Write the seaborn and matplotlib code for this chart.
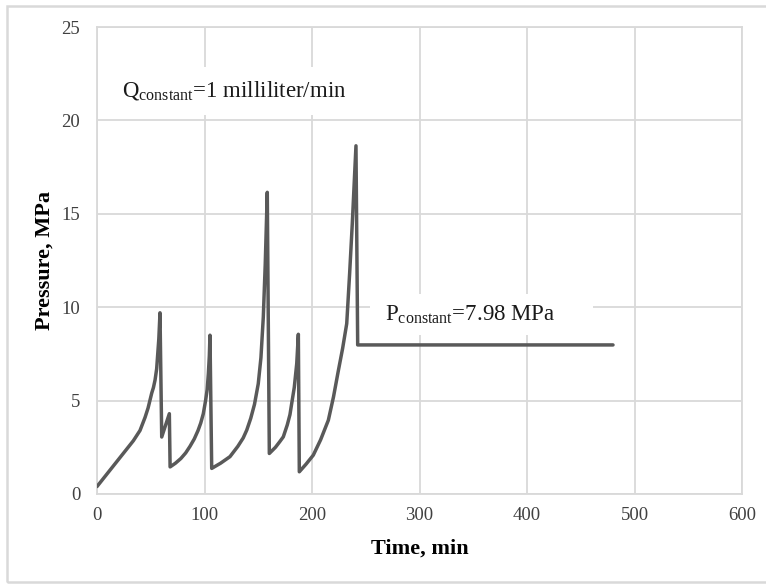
import matplotlib
matplotlib.use("Agg")
import matplotlib.pyplot as plt
from matplotlib.patches import Rectangle
import pandas as pd
import seaborn as sns

# Injection test record: pressure vs time
time_min = [0, 33.8, 40.0, 44.7, 47.5, 50.9, 52.5, 54.0, 55.5, 56.5, 57.5, 58.6,
            60.2, 67.3, 68.0,
            73.0, 78.0, 82.5, 86.5, 90.5, 94.0, 96.5, 98.9, 101.0, 102.5, 103.6, 104.5, 105.1,
            106.7, 115.0, 123.7, 131.0, 136.0, 139.3, 143.0, 146.5, 150.0, 152.5, 154.7, 156.5, 158.4,
            160.3, 166.0, 170.0, 173.3, 177.0, 179.5, 181.1, 183.5, 185.8, 187.3,
            188.2, 194.5, 201.2, 208.0, 215.2, 220.0, 224.5, 228.5, 232.3, 235.0, 237.5, 240.9,
            242.5, 480.0]
pressure_mpa = [0.4, 2.85, 3.4, 4.1, 4.6, 5.4, 5.7, 6.1, 6.7, 7.5, 8.3, 9.7,
                3.05, 4.3, 1.45,
                1.65, 1.9, 2.2, 2.55, 2.95, 3.4, 3.8, 4.3, 5.0, 5.6, 6.45, 7.4, 8.5,
                1.37, 1.65, 2.0, 2.55, 3.0, 3.42, 4.05, 4.8, 5.9, 7.3, 9.47, 12.3, 16.15,
                2.17, 2.5, 2.8, 3.06, 3.7, 4.25, 4.84, 5.7, 6.98, 8.55,
                1.19, 1.6, 2.08, 2.9, 3.95, 5.2, 6.6, 7.8, 9.12, 11.8, 14.5, 18.64,
                7.98, 7.98]

x_ticks = [0, 100, 200, 300, 400, 500, 600]
y_ticks = [0, 5, 10, 15, 20, 25]

df = pd.DataFrame({"Time, min": time_min, "Pressure, MPa": pressure_mpa})

sns.set_theme(style="whitegrid")
plt.rcParams["font.family"] = ["Liberation Serif", "DejaVu Serif"]
plt.rcParams["mathtext.fontset"] = "custom"
plt.rcParams["mathtext.rm"] = "Liberation Serif"

fig = plt.figure(figsize=(7.66, 5.84), dpi=100)
ax = fig.add_axes([97 / 766, 90 / 584, (742 - 97) / 766, (494 - 27) / 584])

sns.lineplot(data=df, x="Time, min", y="Pressure, MPa", ax=ax,
             sort=False, estimator=None, color="#595959", linewidth=2.5, zorder=3)

ax.set_xlim(0, 600)
ax.set_ylim(0, 25)
ax.set_xticks(x_ticks)
ax.set_yticks(y_ticks)
ax.grid(True, color="#d9d9d9", linewidth=1.3)
for s in ax.spines.values():
    s.set_color("#d9d9d9")
    s.set_linewidth(1.3)
ax.tick_params(axis="both", length=0, labelsize=13.5, labelcolor="#404040")
ax.tick_params(axis="y", pad=12)
ax.tick_params(axis="x", pad=9)

ax.set_xlabel("Time, min", fontsize=16, fontweight="bold", color="black", labelpad=11)
ax.set_ylabel("Pressure, MPa", fontsize=16, fontweight="bold", color="black", labelpad=5)

# Text boxes with white fill covering the grid
ax.add_patch(Rectangle((3, 20.3), 246, 2.55, facecolor="white", edgecolor="none", zorder=1))
ax.add_patch(Rectangle((254, 8.5), 207, 2.2, facecolor="white", edgecolor="none", zorder=1))

ax.text(23, 21.25, r"Q$_{\mathregular{constant}}$=1 milliliter/min",
        fontsize=16.5, color="#1a1a1a", va="baseline", ha="left", zorder=4)
ax.text(268, 9.31, r"P$_{\mathregular{constant}}$=7.98 MPa",
        fontsize=16.5, color="#1a1a1a", va="baseline", ha="left", zorder=4)

# Outer chart frame
fig.patches.append(Rectangle((7 / 766, 2 / 584), 770 / 766, 576 / 584,
                             transform=fig.transFigure, fill=False,
                             edgecolor="#d9d9d9", linewidth=1.8))

fig.savefig("out.png", dpi=100)
